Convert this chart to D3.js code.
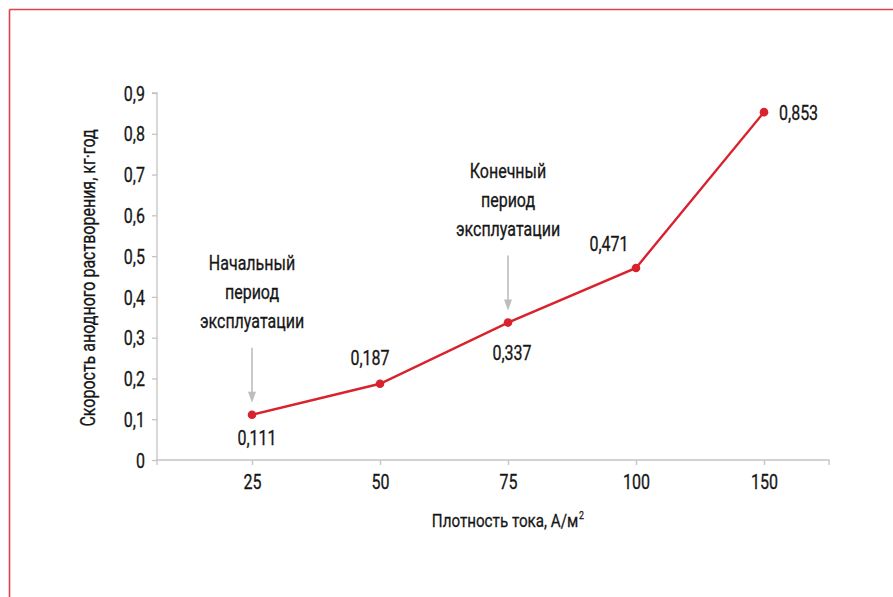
<!DOCTYPE html>
<html>
<head>
<meta charset="utf-8">
<script src="https://cdn.jsdelivr.net/npm/d3@7/dist/d3.min.js"></script>
<style>
  html, body { margin: 0; padding: 0; background: #fff; }
  svg { display: block; }
  svg text { font-family: Roboto, "Liberation Sans", sans-serif; fill: #161616; stroke: #161616; stroke-width: 0.3px; }
</style>
</head>
<body>
<svg id="chart" width="893" height="597"></svg>
<script>
// Current density categories (A/m²) and anodic dissolution rate (kg·year)
const categories = ["25", "50", "75", "100", "150"];
const rates = [0.111, 0.187, 0.337, 0.471, 0.853];
const rateLabels = ["0,111", "0,187", "0,337", "0,471", "0,853"];
const yTicks = [0, 0.1, 0.2, 0.3, 0.4, 0.5, 0.6, 0.7, 0.8, 0.9];
const yTickLabels = ["0", "0,1", "0,2", "0,3", "0,4", "0,5", "0,6", "0,7", "0,8", "0,9"];
const xTitle = "Плотность тока, А/м";
const xTitleSup = "2";
const yTitle = "Скорость анодного растворения, кг·год";
// Annotated operating periods
const notes = [
  { category: "25", lines: ["Начальный", "период", "эксплуатации"] },
  { category: "75", lines: ["Конечный", "период", "эксплуатации"] }
];

const svg = d3.select("#chart");
const W = 893, H = 597;
const axisColor = "#c4c4c4";
const red = "#d8232f";
const FS = 20;        // main font size
const NARROW = 0.8;   // horizontal squeeze for the condensed look

// text placed at (x, y) and squeezed horizontally around its anchor
function label(parent, x, y, str, opts = {}) {
  const g = parent.append("g")
    .attr("transform", `translate(${x},${y}) ${opts.rotate ? `rotate(${opts.rotate})` : ""} scale(${NARROW},1)`);
  const t = g.append("text")
    .attr("text-anchor", opts.anchor || "middle")
    .attr("font-size", opts.size || FS)
    .attr("dy", opts.dy || 0)
    .text(str);
  return t;
}

// frame lines along top and left edges
svg.append("line").attr("x1", 9.5).attr("x2", W).attr("y1", 9.5).attr("y2", 9.5)
  .attr("stroke", red).attr("stroke-width", 1.6).attr("opacity", 0.85);
svg.append("line").attr("x1", 9.5).attr("x2", 9.5).attr("y1", 9.5).attr("y2", H)
  .attr("stroke", red).attr("stroke-width", 1.6).attr("opacity", 0.85);

const plot = { left: 157, right: 829, top: 93, bottom: 460 };

const x = d3.scalePoint().domain(categories).range([252, 764]);
const y = d3.scaleLinear().domain([0, 0.9]).range([plot.bottom, plot.top]);

// y axis
const yAxis = svg.append("g").attr("transform", `translate(${plot.left},0)`)
  .call(d3.axisLeft(y).tickValues(yTicks).tickFormat((d, i) => yTickLabels[i]).tickSize(5).tickPadding(0));
yAxis.attr("font-family", null).attr("font-size", null);
yAxis.select(".domain").attr("stroke", axisColor).attr("stroke-width", 1.3).attr("d", `M-5,${y(0.9)}H0V${plot.bottom}`);
yAxis.selectAll(".tick line").attr("stroke", axisColor).attr("stroke-width", 1.3);
yAxis.selectAll(".tick text").attr("font-size", FS).attr("fill", "#161616")
  .attr("x", -12 / NARROW).attr("dy", "0.36em").attr("transform", `scale(${NARROW},1)`);

// x axis
const xAxis = svg.append("g").attr("transform", `translate(0,${plot.bottom})`)
  .call(d3.axisBottom(x).tickSize(5).tickPadding(10));
xAxis.attr("font-family", null).attr("font-size", null);
xAxis.select(".domain").attr("stroke", axisColor).attr("stroke-width", 1.3)
  .attr("d", `M${plot.left},5V0H${plot.right}V5`);
xAxis.selectAll(".tick line").attr("stroke", axisColor).attr("stroke-width", 1.3);
xAxis.selectAll(".tick text").attr("font-size", FS).attr("fill", "#161616")
  .attr("transform", `scale(${NARROW},1)`);

// axis titles
const xt = label(svg, 505, 527, xTitle, { size: 19 });
const xtw = xt.node().getComputedTextLength();
label(svg, 505 + (xtw / 2 + 1) * NARROW, 519, xTitleSup, { size: 11, anchor: "start" });

label(svg, 88, 278, yTitle, { rotate: -90, size: 20, dy: "0.35em" });

// annotations with downward arrows
const gray = "#bdbdbd";
notes.forEach(n => {
  const i = categories.indexOf(n.category);
  const cx = x(n.category);
  const py = y(rates[i]);
  const arrowTip = py - 12;
  const arrowTop = arrowTip - 55;
  const lineH = 29;
  n.lines.forEach((t, k) => {
    label(svg, cx, arrowTop - 20 - (n.lines.length - 1 - k) * lineH, t);
  });
  svg.append("line").attr("x1", cx).attr("x2", cx).attr("y1", arrowTop).attr("y2", arrowTip - 8)
    .attr("stroke", gray).attr("stroke-width", 1.6);
  svg.append("path").attr("d", `M${cx - 4},${arrowTip - 11}L${cx + 4},${arrowTip - 11}L${cx},${arrowTip}Z`)
    .attr("fill", gray);
});

// data line
const line = d3.line().x((d, i) => x(categories[i])).y(d => y(d));
svg.append("path").datum(rates).attr("d", line).attr("fill", "none")
  .attr("stroke", red).attr("stroke-width", 2.4);

svg.selectAll("circle.pt").data(rates).join("circle").attr("class", "pt")
  .attr("cx", (d, i) => x(categories[i])).attr("cy", d => y(d)).attr("r", 4.3).attr("fill", red);

// value labels: offsets per point
const labelPos = [
  { dx: 5, dy: 30, anchor: "middle" },
  { dx: -10, dy: -19, anchor: "middle" },
  { dx: 4, dy: 37, anchor: "middle" },
  { dx: -27, dy: -17, anchor: "middle" },
  { dx: 15, dy: 8, anchor: "start" }
];
rates.forEach((d, i) => {
  label(svg, x(categories[i]) + labelPos[i].dx, y(d) + labelPos[i].dy, rateLabels[i],
    { anchor: labelPos[i].anchor });
});
</script>
</body>
</html>
